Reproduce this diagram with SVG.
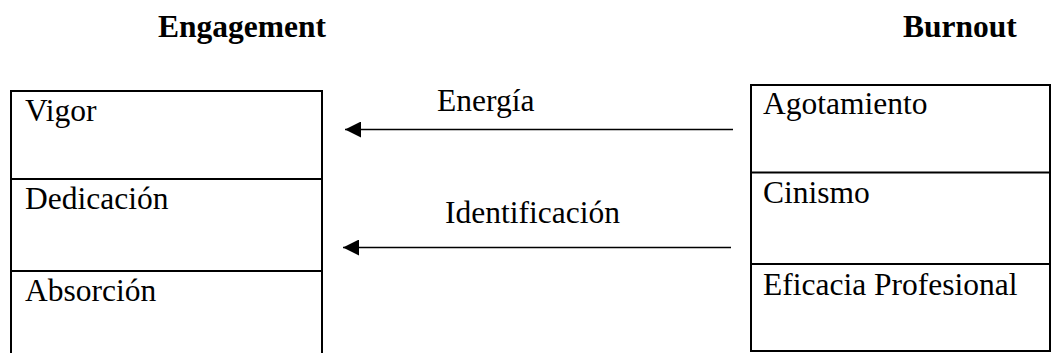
<svg xmlns="http://www.w3.org/2000/svg" width="1051" height="353" viewBox="0 0 1051 353">
<style>
text{font-family:"Liberation Serif","Times New Roman",serif;font-size:31.5px;fill:#000}
.h{font-weight:bold}
.box{fill:none;stroke:#000;stroke-width:2}
.conn{stroke:#000;stroke-width:1.3;fill:none}
</style>
<defs>
<marker id="ah" markerUnits="userSpaceOnUse" markerWidth="17" markerHeight="16" refX="16" refY="8" orient="auto">
<path d="M0,0 L16,8 L0,16 Z" fill="#000"/>
</marker>
</defs>
<rect width="1051" height="353" fill="#fff"/>
<text class="h" x="158" y="37">Engagement</text>
<text class="h" x="903" y="37">Burnout</text>
<g id="engagement">
<path class="box" d="M11,353 V91 H322 V353 M11,179 H322 M11,271 H322"/>
<g id="vigor"><text x="25" y="121">Vigor</text></g>
<g id="dedicacion"><text x="25" y="209">Dedicación</text></g>
<g id="absorcion"><text x="25" y="301">Absorción</text></g>
</g>
<g id="burnout">
<path class="box" d="M751,85 H1050 V351 H751 Z M751,172.5 H1050 M751,264 H1050"/>
<g id="agotamiento"><text x="763" y="114">Agotamiento</text></g>
<g id="cinismo"><text x="763" y="203">Cinismo</text></g>
<g id="eficacia"><text x="763" y="295">Eficacia Profesional</text></g>
</g>
<g id="connectors">
<line class="conn" x1="733" y1="129.5" x2="345" y2="129.5" marker-end="url(#ah)"/>
<text x="437" y="111">Energía</text>
<line class="conn" x1="731" y1="247.5" x2="343" y2="247.5" marker-end="url(#ah)"/>
<text x="445" y="223">Identificación</text>
</g>
</svg>
